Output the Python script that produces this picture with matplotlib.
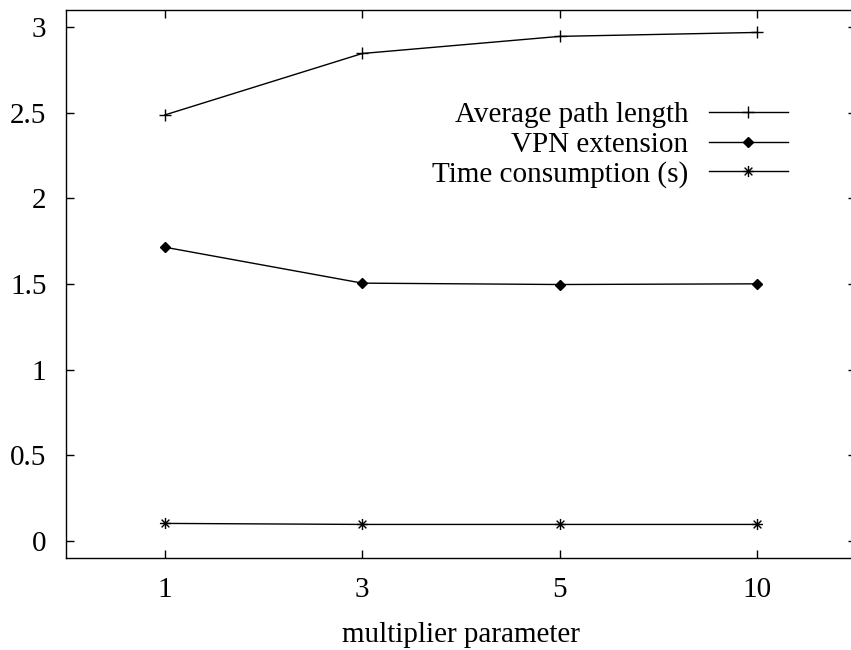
import numpy as np
import matplotlib
matplotlib.use("Agg")
import matplotlib.pyplot as plt
from matplotlib.path import Path

plt.rcParams['font.family'] = ['Liberation Serif', 'DejaVu Serif']
plt.rcParams['font.size'] = 21

# multiplier values sit at evenly spaced positions
multipliers = ["1", "3", "5", "10"]
avg_path_length = [2.487, 2.846, 2.946, 2.969]
vpn_extension = [1.715, 1.505, 1.497, 1.501]
time_consumption = [0.102, 0.096, 0.096, 0.096]

# gnuplot style asterisk: a plus and a cross on top of each other
asterisk = Path(
    [(-1, 0), (1, 0), (0, -1), (0, 1), (-0.7, -0.7), (0.7, 0.7), (-0.7, 0.7), (0.7, -0.7)],
    [Path.MOVETO, Path.LINETO] * 4,
)

fig = plt.figure(figsize=(8.51, 6.5), dpi=100)
ax = fig.add_axes([66 / 851, 92 / 650, 790 / 851, 548 / 650])

x = np.arange(len(multipliers))
ax.plot(x, avg_path_length, color="black", lw=1.0, marker="+", ms=9, mew=1.0,
        label="Average path length")
ax.plot(x, vpn_extension, color="black", lw=1.0, marker="D", ms=5.5,
        label="VPN extension")
ax.plot(x, time_consumption, color="black", lw=1.0, marker=asterisk, ms=8, mew=1.0,
        label="Time consumption (s)")

ax.set_xlim(-0.5, 3.5)
ax.set_ylim(-0.1, 3.1)
ax.set_xticks(x)
ax.set_xticklabels(multipliers)
ax.set_yticks([0, 0.5, 1, 1.5, 2, 2.5, 3])
ax.set_yticklabels(["0", "0.5", "1", "1.5", "2", "2.5", "3"])
ax.tick_params(direction="in", length=6, width=1.0, top=True, right=True, pad=14)
for s in ax.spines.values():
    s.set_linewidth(1.0)
# the right border falls just past the figure edge
ax.spines['right'].set_visible(False)

ax.set_xlabel("multiplier parameter", labelpad=13)

ax.legend(loc="upper right", bbox_to_anchor=(0.914, 0.832), markerfirst=False,
          frameon=False, handlelength=2.72, handletextpad=0.7, labelspacing=0.1,
          borderpad=0, borderaxespad=0)

fig.savefig("out.png", dpi=100)
